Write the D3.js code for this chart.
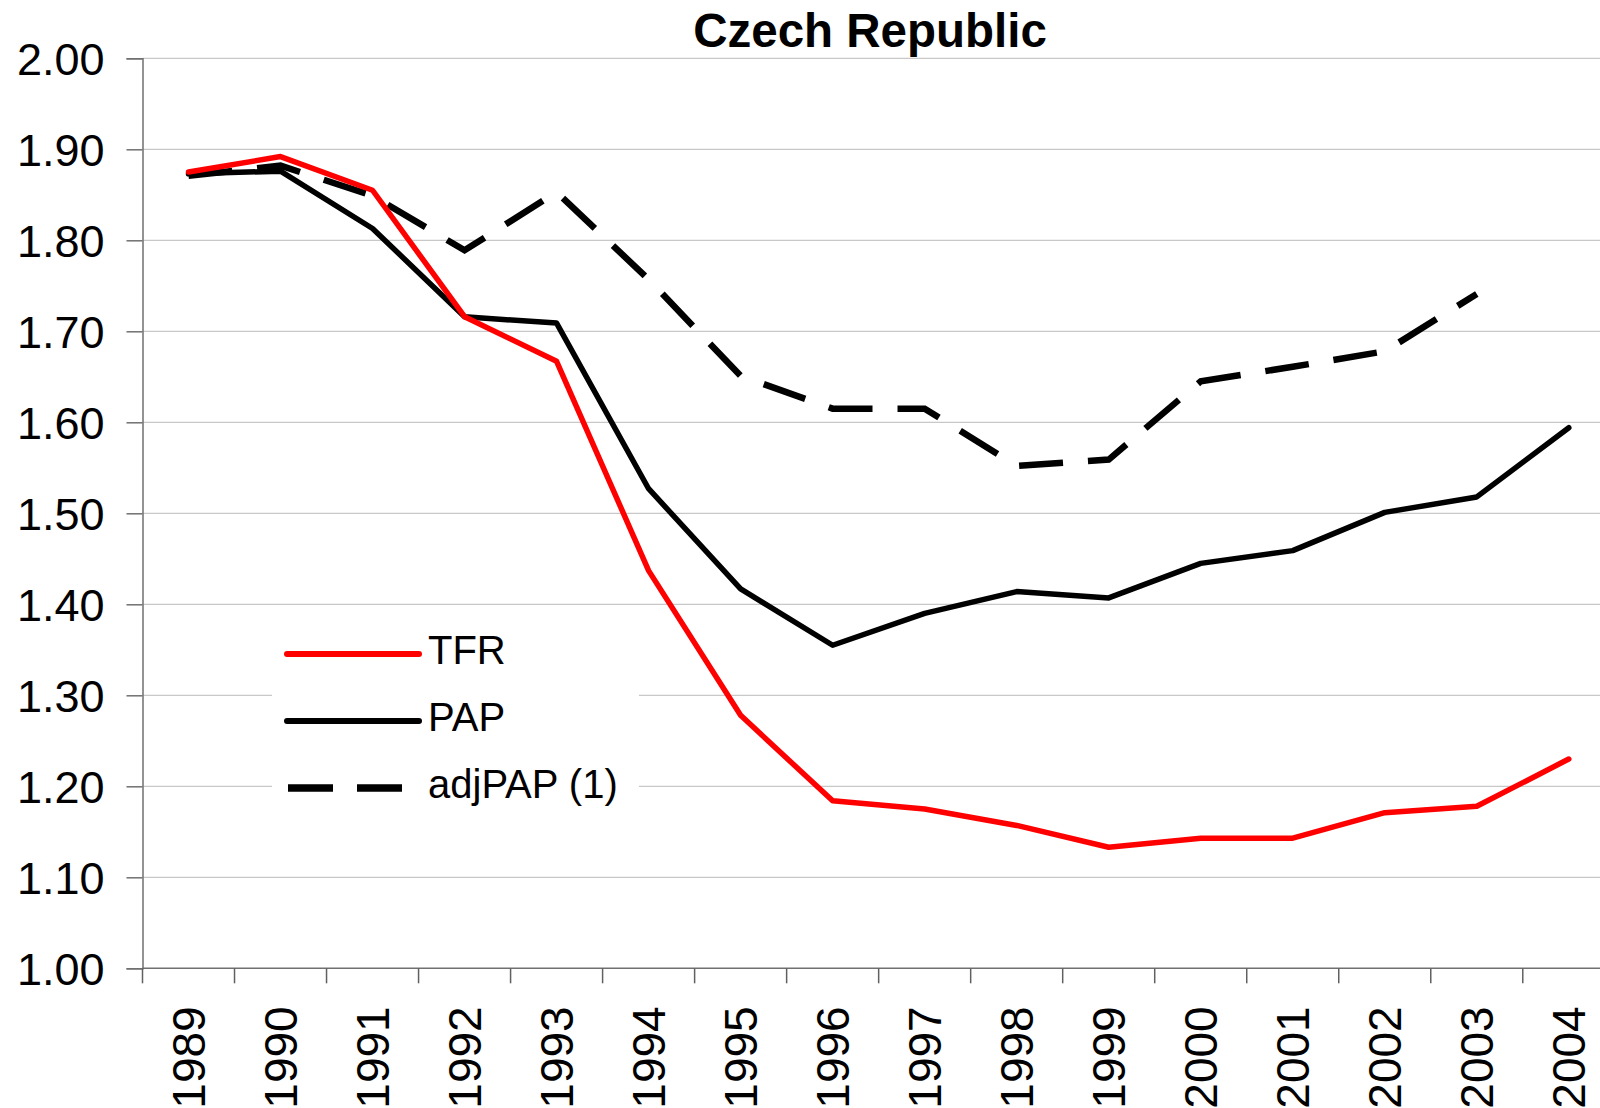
<!DOCTYPE html>
<html>
<head>
<meta charset="utf-8">
<script src="https://cdn.jsdelivr.net/npm/d3@7"></script>
<style>
  html, body { margin: 0; padding: 0; background: #fff; }
  svg { display: block; font-family: "Liberation Sans", Arial, sans-serif; }
</style>
</head>
<body>
<svg id="chart" width="1600" height="1108"></svg>
<script>
const title = "Czech Republic";
const years = ["1989","1990","1991","1992","1993","1994","1995","1996","1997","1998","1999","2000","2001","2002","2003","2004"];
const tfr    = [1.875,1.892,1.855,1.716,1.667,1.437,1.278,1.184,1.175,1.157,1.133,1.143,1.143,1.171,1.178,1.230];
const pap    = [1.873,1.876,1.813,1.716,1.709,1.527,1.417,1.355,1.390,1.414,1.407,1.445,1.459,1.501,1.518,1.594];
const adjPap = [1.871,1.882,1.849,1.789,1.853,1.757,1.651,1.615,1.615,1.552,1.559,1.645,1.661,1.678,1.741,null];
const yTicks = [1.00,1.10,1.20,1.30,1.40,1.50,1.60,1.70,1.80,1.90,2.00];
const seriesNames = ["TFR","PAP","adjPAP (1)"];

(function () {
const svg = d3.select("#chart");
const pLeft = 142.5, pRight = 1614.8, pTop = 58.3, pBottom = 968.3;

const x = d3.scaleBand().domain(years).range([pLeft, pRight]).padding(0);
const y = d3.scaleLinear().domain([1.0, 2.0]).range([pBottom, pTop]);

// gridlines
svg.append("g").selectAll("line").data(yTicks.filter(d => d > 1.0)).join("line")
  .attr("x1", pLeft).attr("x2", 1600)
  .attr("y1", d => y(d)).attr("y2", d => y(d))
  .attr("stroke", "#c8c8c8").attr("stroke-width", 1.2);

// y axis
const yAxis = d3.axisLeft(y).tickValues(yTicks).tickFormat(d3.format(".2f")).tickSize(16).tickPadding(22);
const gy = svg.append("g").attr("transform", `translate(${pLeft},0)`).call(yAxis);
gy.select(".domain").attr("stroke", "#707070").attr("stroke-width", 1.5);
gy.selectAll(".tick line").attr("stroke", "#707070").attr("stroke-width", 1.5);
gy.selectAll(".tick text").attr("font-size", 45).attr("fill", "#000")
  .attr("font-family", "Liberation Sans, Arial, sans-serif").attr("dy", "0.36em");

// x axis (ticks at category boundaries)
svg.append("line").attr("x1", pLeft).attr("x2", 1600).attr("y1", pBottom).attr("y2", pBottom)
  .attr("stroke", "#707070").attr("stroke-width", 1.5);
const boundaries = years.map(d => x(d));
svg.append("g").selectAll("line").data(boundaries).join("line")
  .attr("x1", d => d).attr("x2", d => d).attr("y1", pBottom).attr("y2", pBottom + 15)
  .attr("stroke", "#606060").attr("stroke-width", 1.5);
svg.append("g").selectAll("text").data(years).join("text")
  .attr("transform", d => `translate(${x(d) + x.bandwidth()/2 + 16.5},${pBottom + 38}) rotate(-90)`)
  .attr("text-anchor", "end")
  .attr("font-size", 46).attr("fill", "#000")
  .text(d => d);

// title
svg.append("text").attr("x", 870).attr("y", 47).attr("text-anchor", "middle")
  .attr("font-size", 47.5).attr("font-weight", "bold").attr("fill", "#000").text(title);

// lines
const cx = (d, i) => x(years[i]) + x.bandwidth()/2;
const line = d3.line().defined(d => d != null).x(cx).y(d => y(d));

svg.append("path").datum(adjPap).attr("d", line)
  .attr("fill", "none").attr("stroke", "#000").attr("stroke-width", 6.5)
  .attr("stroke-dasharray", "44,25").attr("stroke-linejoin", "miter");
svg.append("path").datum(pap).attr("d", line)
  .attr("fill", "none").attr("stroke", "#000").attr("stroke-width", 5.5)
  .attr("stroke-linejoin", "round").attr("stroke-linecap", "round");
svg.append("path").datum(tfr).attr("d", line)
  .attr("fill", "none").attr("stroke", "#ff0000").attr("stroke-width", 5.5)
  .attr("stroke-linejoin", "round").attr("stroke-linecap", "round");

// legend
const lg = svg.append("g");
lg.append("rect").attr("x", 272).attr("y", 610).attr("width", 367).attr("height", 212).attr("fill", "#fff");
const rowsY = [654, 721, 788];
const styles = [
  {stroke: "#ff0000", w: 6, dash: null},
  {stroke: "#000", w: 6, dash: null},
  {stroke: "#000", w: 7.5, dash: "45,24"}
];
seriesNames.forEach((name, i) => {
  const s = styles[i];
  const l = lg.append("line").attr("x1", s.dash ? 288 : 287).attr("x2", s.dash ? 402 : 419)
    .attr("y1", rowsY[i]).attr("y2", rowsY[i])
    .attr("stroke", s.stroke).attr("stroke-width", s.w);
  if (s.dash) l.attr("stroke-dasharray", s.dash); else l.attr("stroke-linecap", "round");
  lg.append("text").attr("x", 428).attr("y", rowsY[i] + 10)
    .attr("font-size", 40).attr("fill", "#000")
    .text(name);
});
})();
</script>
</body>
</html>
